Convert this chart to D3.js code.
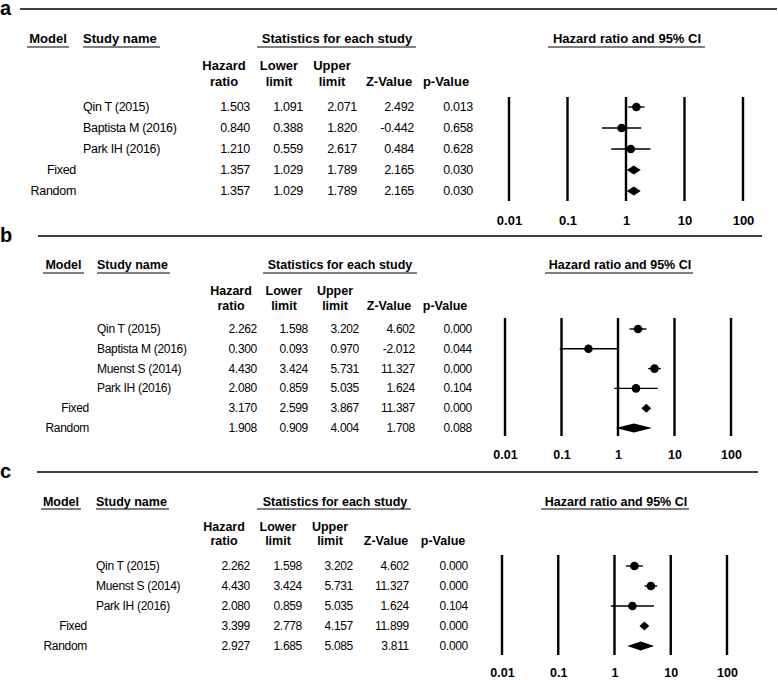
<!DOCTYPE html>
<html>
<head>
<meta charset="utf-8">
<script src="https://cdn.jsdelivr.net/npm/d3@7"></script>
<style>
  body { margin: 0; background: #fff; }
  svg { display: block; font-family: "Liberation Sans", Arial, sans-serif; }
</style>
</head>
<body>
<div id="chart"></div>
<script>
// ---- data ----
const panelIds = ["a", "b", "c"];
const pooledLabels = ["Fixed", "Random"];

const studiesA = ["Qin T (2015)", "Baptista M (2016)", "Park IH (2016)"];
const hrA    = [1.503, 0.840, 1.210, 1.357, 1.357];
const lowerA = [1.091, 0.388, 0.559, 1.029, 1.029];
const upperA = [2.071, 1.820, 2.617, 1.789, 1.789];
const zA     = [2.492, -0.442, 0.484, 2.165, 2.165];
const pA     = [0.013, 0.658, 0.628, 0.030, 0.030];

const studiesB = ["Qin T (2015)", "Baptista M (2016)", "Muenst S (2014)", "Park IH (2016)"];
const hrB    = [2.262, 0.300, 4.430, 2.080, 3.170, 1.908];
const lowerB = [1.598, 0.093, 3.424, 0.859, 2.599, 0.909];
const upperB = [3.202, 0.970, 5.731, 5.035, 3.867, 4.004];
const zB     = [4.602, -2.012, 11.327, 1.624, 11.387, 1.708];
const pB     = [0.000, 0.044, 0.000, 0.104, 0.000, 0.088];

const studiesC = ["Qin T (2015)", "Muenst S (2014)", "Park IH (2016)"];
const hrC    = [2.262, 4.430, 2.080, 3.399, 2.927];
const lowerC = [1.598, 3.424, 0.859, 2.778, 1.685];
const upperC = [3.202, 5.731, 5.035, 4.157, 5.085];
const zC     = [4.602, 11.327, 1.624, 11.899, 3.811];
const pC     = [0.000, 0.000, 0.104, 0.000, 0.000];

const tickValues = [0.01, 0.1, 1, 10, 100];
const tickLabels = ["0.01", "0.1", "1", "10", "100"];
const colHeads = [["Hazard", "ratio"], ["Lower", "limit"], ["Upper", "limit"], ["", "Z-Value"], ["", "p-Value"]];

// ---- layout (each panel was pasted at a slightly different scale) ----
const layouts = {
  a: { labelY: 15, ruleY: 9, rule: [20, 777], fs: 12.5, hfs: 13,
       headY: 43, ulY: 47,
       modelHead: [48, 27, 69], studyHead: [83, 83, 160], statHead: [337, 257, 416], ciHead: [627, 548, 705],
       subY: [70, 86], subX: [224, 279, 332, 389, 446],
       rowY0: 111, rowStep: 21, modelX: 76, studyX: 83, valX: [250, 303, 357, 414, 473],
       axis: [509, 743], lineY: [97, 201], tickY: 225 },
  b: { labelY: 242, ruleY: 236, rule: [38, 762], fs: 12, hfs: 12.5,
       headY: 269, ulY: 273,
       modelHead: [63.5, 43, 84], studyHead: [97, 97, 170], statHead: [340, 263, 417], ciHead: [620, 545, 693],
       subY: [295, 310], subX: [231, 284, 335, 389, 445],
       rowY0: 333, rowStep: 19.8, modelX: 89, studyX: 97, valX: [257, 308, 359, 415, 472],
       axis: [505, 731], lineY: [318, 436], tickY: 459 },
  c: { labelY: 478, ruleY: 472, rule: [37, 758], fs: 12, hfs: 12.5,
       headY: 506, ulY: 509,
       modelHead: [61, 41, 81], studyHead: [96, 96, 169], statHead: [335, 257, 411], ciHead: [616, 541, 689],
       subY: [531, 545], subX: [224, 278, 330, 386, 443],
       rowY0: 570, rowStep: 20, modelX: 87, studyX: 96, valX: [250, 302, 353, 409, 468],
       axis: [502, 727], lineY: [555, 655], tickY: 677 }
};

const panels = [
  { id: panelIds[0], studies: studiesA, hr: hrA, lower: lowerA, upper: upperA, z: zA, p: pA },
  { id: panelIds[1], studies: studiesB, hr: hrB, lower: lowerB, upper: upperB, z: zB, p: pB },
  { id: panelIds[2], studies: studiesC, hr: hrC, lower: lowerC, upper: upperC, z: zC, p: pC }
];

const fmt = d3.formatLocale({ decimal: ".", thousands: ",", grouping: [3], currency: ["", ""], minus: "-" }).format(".3f");

const svg = d3.select("#chart").append("svg")
  .attr("width", 778)
  .attr("height", 680);

function underlinedHead(g, txt, spec, y, ulY, fs, anchor) {
  g.append("text")
    .attr("x", spec[0]).attr("y", y)
    .attr("text-anchor", anchor)
    .attr("font-weight", "bold")
    .attr("font-size", fs)
    .text(txt);
  g.append("line")
    .attr("x1", spec[1]).attr("x2", spec[2])
    .attr("y1", ulY).attr("y2", ulY)
    .attr("stroke", "#000").attr("stroke-width", 1.2);
}

function drawPanel(p) {
  const L = layouts[p.id];
  const g = svg.append("g");
  const fs = L.fs;

  // panel letter + top rule
  g.append("text")
    .attr("x", 0).attr("y", L.labelY)
    .attr("font-size", 20).attr("font-weight", "bold")
    .text(p.id);
  g.append("line")
    .attr("x1", L.rule[0]).attr("x2", L.rule[1])
    .attr("y1", L.ruleY).attr("y2", L.ruleY)
    .attr("stroke", "#000").attr("stroke-width", 1.6);

  // headers
  underlinedHead(g, "Model", L.modelHead, L.headY, L.ulY, L.hfs, "middle");
  underlinedHead(g, "Study name", L.studyHead, L.headY, L.ulY, L.hfs, "start");
  underlinedHead(g, "Statistics for each study", L.statHead, L.headY, L.ulY, L.hfs, "middle");
  underlinedHead(g, "Hazard ratio and 95% CI", L.ciHead, L.headY, L.ulY, L.hfs, "middle");

  colHeads.forEach((h, i) => {
    h.forEach((line, j) => {
      if (!line) return;
      g.append("text")
        .attr("x", L.subX[i]).attr("y", L.subY[j])
        .attr("text-anchor", "middle")
        .attr("font-weight", "bold")
        .attr("font-size", L.hfs)
        .text(line);
    });
  });

  // rows
  const rows = p.hr.map((hr, i) => ({
    name: i < p.studies.length ? p.studies[i] : "",
    model: i < p.studies.length ? "" : pooledLabels[i - p.studies.length],
    pooled: i >= p.studies.length,
    hr: hr, lower: p.lower[i], upper: p.upper[i], z: p.z[i], p: p.p[i]
  }));

  const y = d3.scaleLinear()
    .domain([0, 1])
    .range([L.rowY0, L.rowY0 + L.rowStep]);

  const rowG = g.selectAll("g.row")
    .data(rows)
    .enter().append("g")
    .attr("class", "row")
    .attr("transform", (d, i) => `translate(0,${y(i)})`)
    .attr("font-size", fs);

  rowG.append("text")
    .attr("x", L.studyX)
    .attr("letter-spacing", -0.3)
    .text(d => d.name);
  rowG.append("text")
    .attr("x", L.modelX)
    .attr("text-anchor", "end")
    .attr("letter-spacing", -0.3)
    .text(d => d.model);

  ["hr", "lower", "upper", "z", "p"].forEach((k, i) => {
    rowG.append("text")
      .attr("x", L.valX[i])
      .attr("text-anchor", "end")
      .attr("letter-spacing", -0.3)
      .text(d => fmt(d[k]));
  });

  // forest plot
  const x = d3.scaleLog()
    .domain([0.01, 100])
    .range(L.axis);

  g.selectAll("line.ref")
    .data(tickValues)
    .enter().append("line")
    .attr("x1", d => x(d)).attr("x2", d => x(d))
    .attr("y1", L.lineY[0]).attr("y2", L.lineY[1])
    .attr("stroke", "#000").attr("stroke-width", 2.4);

  const axisG = g.append("g")
    .attr("transform", `translate(0,${L.tickY})`)
    .call(d3.axisBottom(x).tickValues(tickValues).tickFormat((d, i) => tickLabels[i]).tickSize(0).tickPadding(0));
  axisG.select(".domain").remove();
  axisG.selectAll("text")
    .attr("dy", 0)
    .attr("y", 0)
    .attr("fill", "#000")
    .attr("font-family", '"Liberation Sans", Arial, sans-serif')
    .attr("font-size", L.hfs)
    .attr("font-weight", "bold");

  const cy = d => y(rows.indexOf(d)) - 4;

  const studies = rows.filter(d => !d.pooled);
  g.selectAll("line.ci")
    .data(studies)
    .enter().append("line")
    .attr("x1", d => x(d.lower)).attr("x2", d => x(d.upper))
    .attr("y1", cy).attr("y2", cy)
    .attr("stroke", "#000").attr("stroke-width", 1.4);
  g.selectAll("circle.pt")
    .data(studies)
    .enter().append("circle")
    .attr("cx", d => x(d.hr)).attr("cy", cy)
    .attr("r", 4.3)
    .attr("fill", "#000");

  g.selectAll("path.pool")
    .data(rows.filter(d => d.pooled))
    .enter().append("path")
    .attr("d", d => {
      const c = cy(d);
      return `M${x(d.lower)},${c}L${x(d.hr)},${c - 4.5}L${x(d.upper)},${c}L${x(d.hr)},${c + 4.5}Z`;
    })
    .attr("fill", "#000");
}

panels.forEach(drawPanel);
</script>
</body>
</html>
